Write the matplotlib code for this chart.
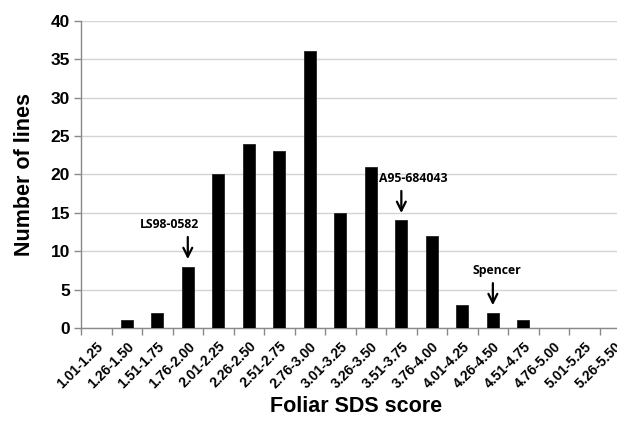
import matplotlib.pyplot as plt
import numpy as np

# categorias de puntuacion foliar SDS
categorias = ["1.01-1.25", "1.26-1.50", "1.51-1.75", "1.76-2.00", "2.01-2.25",
              "2.26-2.50", "2.51-2.75", "2.76-3.00", "3.01-3.25", "3.26-3.50",
              "3.51-3.75", "3.76-4.00", "4.01-4.25", "4.26-4.50", "4.51-4.75",
              "4.76-5.00", "5.01-5.25", "5.26-5.50"]
lineas = [0, 1, 2, 8, 20, 24, 23, 36, 15, 21, 14, 12, 3, 2, 1, 0, 0, 0]

# lineas destacadas: (nombre, categoria)
destacadas = [("LS98-0582", "1.76-2.00"), ("A95-684043", "3.51-3.75"),
              ("Spencer", "4.26-4.50")]
desplaz_texto = [-0.6, 0.4, 0.13]

plt.rcParams['font.family'] = ['Liberation Sans', 'DejaVu Sans']

fig = plt.figure(figsize=(6.17, 4.23), dpi=100)
ax = fig.add_axes([0.1313, 0.2246, 0.890, 0.7265])

x = np.arange(len(categorias))
ax.bar(x, lineas, width=0.4, color='black', edgecolor='#222222', linewidth=0.6, zorder=3)

ax.set_xlim(-0.5, len(categorias) - 0.5)
ax.set_ylim(0, 40)
ax.set_yticks(range(0, 41, 5))
ax.yaxis.grid(True, color='#d4d4d4', linewidth=1.0, zorder=0)

ax.set_xticks(x)
ax.set_xticklabels(categorias, rotation=45, ha='right', rotation_mode='anchor',
                   fontsize=10, fontweight='bold')
ax.set_xticks(np.arange(-0.5, len(categorias)), minor=True)
ax.tick_params(axis='x', which='major', length=0, pad=8)
ax.tick_params(axis='x', which='minor', length=5, color='#888888', width=1)
ax.tick_params(axis='y', length=5, color='#888888', width=1, labelsize=12.5, pad=3)
for lab in ax.get_yticklabels():
    lab.set_fontweight('bold')

for lado in ['top', 'right']:
    ax.spines[lado].set_visible(False)
for lado in ['left', 'bottom']:
    ax.spines[lado].set_color('#888888')
    ax.spines[lado].set_linewidth(1)

ax.set_xlabel("Foliar SDS score", fontsize=15.5, fontweight='bold', labelpad=4)
ax.set_ylabel("Number of lines", fontsize=15.5, fontweight='bold', labelpad=11)

for (nombre, cat), dx in zip(destacadas, desplaz_texto):
    i = categorias.index(cat)
    v = lineas[i]
    ax.annotate("", xy=(i, v + 0.6), xytext=(i, v + 4.2),
                arrowprops=dict(arrowstyle='->', color='black', lw=1.6,
                                mutation_scale=16), zorder=4)
    ax.text(i + dx, v + 4.6, nombre, ha='center', va='bottom',
            fontsize=8.8, fontweight='bold', family=['Open Sans', 'DejaVu Sans'])

fig.savefig("out.png", dpi=100)
